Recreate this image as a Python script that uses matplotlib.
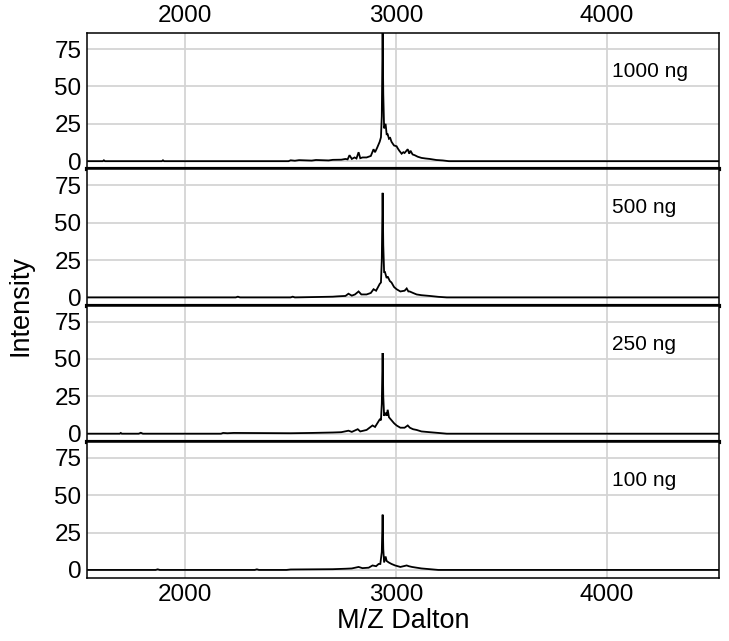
import matplotlib
matplotlib.use("Agg")
import matplotlib.pyplot as plt

plt.rcParams['font.family'] = ['Liberation Sans', 'DejaVu Sans']

labels = ["1000 ng", "500 ng", "250 ng", "100 ng"]

mz_1000 = [1540, 1610, 1615, 1620, 1890, 1895, 1900, 2490, 2500, 2520, 2540, 2600, 2620, 2680, 2700,
           2740, 2760, 2770, 2779, 2790, 2803, 2812, 2822, 2830, 2841, 2860, 2880, 2893, 2900,
           2910, 2922, 2928, 2932, 2936, 2939, 2943, 2950, 2955, 2960, 2966, 2972, 2978, 2985, 2990,
           3002, 3008, 3015, 3026, 3034, 3040, 3055, 3062, 3068, 3078, 3088, 3102, 3120, 3140,
           3159, 3190, 3221, 3250, 4530]
int_1000 = [0, 0, 0.6, 0, 0, 0.6, 0, 0, 0.6, 0.3, 0.7, 0.4, 0.8, 0.5, 0.9,
            1.0, 1.5, 1.2, 4.0, 1.5, 2.5, 1.8, 6.0, 2.0, 2.5, 2.5, 3.5, 8.0, 6.0,
            9.0, 13.0, 16.0, 30.0, 86.0, 45.0, 22.0, 25.0, 18.0, 18.0, 15.0, 15.5, 13.0, 11.5, 10.5,
            10.0, 8.5, 7.0, 5.0, 6.0, 5.5, 8.0, 5.0, 7.0, 4.5, 4.0, 3.0, 2.2, 1.8,
            1.5, 0.8, 0.5, 0, 0]

mz_500 = [1540, 2240, 2250, 2260, 2500, 2510, 2520, 2700, 2720, 2760, 2774, 2790, 2805, 2822,
          2835, 2860, 2880, 2893, 2905, 2922, 2928, 2932, 2936, 2939, 2943, 2947, 2955, 2960,
          2970, 2978, 2990, 3002, 3020, 3040, 3050, 3058, 3064, 3080, 3097, 3120, 3159, 3200,
          3240, 4530]
int_500 = [0, 0, 0.5, 0, 0, 0.5, 0, 0.5, 0.7, 1.0, 2.5, 1.2, 2.0, 4.0,
           2.0, 2.0, 3.0, 5.5, 4.5, 9.0, 10.0, 25.0, 70.0, 35.0, 17.0, 17.0, 13.0, 14.0,
           11.0, 10.0, 7.0, 5.5, 4.0, 4.5, 6.0, 4.0, 4.0, 3.0, 2.0, 1.5, 1.0, 0.4,
           0, 0]

mz_250 = [1540, 1690, 1695, 1700, 1780, 1790, 1800, 2170, 2180, 2200, 2230, 2500, 2600, 2700,
          2740, 2774, 2790, 2818, 2830, 2860, 2888, 2900, 2922, 2928, 2932, 2936, 2939, 2943,
          2950, 2955, 2960, 2966, 2978, 2990, 3002, 3020, 3040, 3055, 3065, 3080, 3097, 3120,
          3159, 3200, 3240, 4530]
int_250 = [0, 0, 0.5, 0, 0, 0.6, 0, 0, 0.5, 0.3, 0.5, 0.3, 0.5, 0.8,
           1.0, 2.0, 1.2, 3.0, 1.5, 2.5, 5.5, 4.5, 9.5, 9.0, 20.0, 54.0, 25.0, 12.0,
           14.0, 12.0, 16.0, 11.0, 9.0, 7.0, 5.5, 4.0, 4.0, 5.5, 4.0, 3.0, 2.5, 1.5,
           1.0, 0.5, 0, 0]

mz_100 = [1540, 1860, 1870, 1880, 2330, 2340, 2350, 2480, 2500, 2700, 2760, 2790, 2822, 2840,
          2870, 2888, 2905, 2917, 2925, 2932, 2936, 2939, 2943, 2950, 2955, 2965, 2978, 2995,
          3020, 3050, 3060, 3075, 3097, 3120, 3160, 3200, 4530]
int_100 = [0, 0, 0.4, 0, 0, 0.4, 0, 0, 0.3, 0.5, 0.8, 1.0, 2.0, 1.2,
           1.5, 3.0, 2.5, 4.0, 4.0, 12.0, 37.0, 14.0, 5.0, 9.0, 6.0, 5.0, 4.0, 3.0,
           2.0, 3.0, 2.5, 2.0, 1.5, 1.0, 0.5, 0, 0]

series = [(mz_1000, int_1000), (mz_500, int_500), (mz_250, int_250), (mz_100, int_100)]

x_ticks = [2000, 3000, 4000]
y_ticks = [0, 25, 50, 75]
x_range = (1535, 4530)
y_range = (-5.4, 85.8)
label_pos = (4025, 60)

fig = plt.figure(figsize=(7.29, 6.41), dpi=100)
left, right = 87 / 729, 719 / 729
top, bottom = 1 - 33 / 641, 1 - 578 / 641
h = (top - bottom) / 4

for i, ((mz, inten), lab) in enumerate(zip(series, labels)):
    ax = fig.add_axes([left, top - (i + 1) * h, right - left, h])
    ax.plot(mz, inten, color='black', lw=1.3, zorder=3, solid_joinstyle='miter')
    ax.set_xlim(*x_range)
    ax.set_ylim(*y_range)
    ax.set_xticks(x_ticks)
    ax.set_yticks(y_ticks)
    ax.grid(True, color='#d4d4d4', lw=1.3, zorder=0)
    ax.set_axisbelow(True)
    ax.tick_params(length=0, labelsize=17.5, pad=4)
    for s in ax.spines.values():
        s.set_linewidth(1.1)
        s.set_color('black')
    if i < 3:
        ax.spines['bottom'].set_linewidth(3.0)
    if i == 0:
        ax.xaxis.tick_top()
        ax.tick_params(labeltop=True, labelbottom=False)
    elif i == 3:
        ax.tick_params(labelbottom=True)
        ax.set_xlabel("M/Z Dalton", fontsize=19.5, labelpad=2)
    else:
        ax.tick_params(labelbottom=False, labeltop=False)
    ax.text(label_pos[0], label_pos[1], lab, fontsize=15, ha='left', va='center')

fig.text(0.028, (top + bottom) / 2, "Intensity", rotation=90, fontsize=19.5,
         ha='center', va='center')

fig.savefig("out.png", dpi=100)
